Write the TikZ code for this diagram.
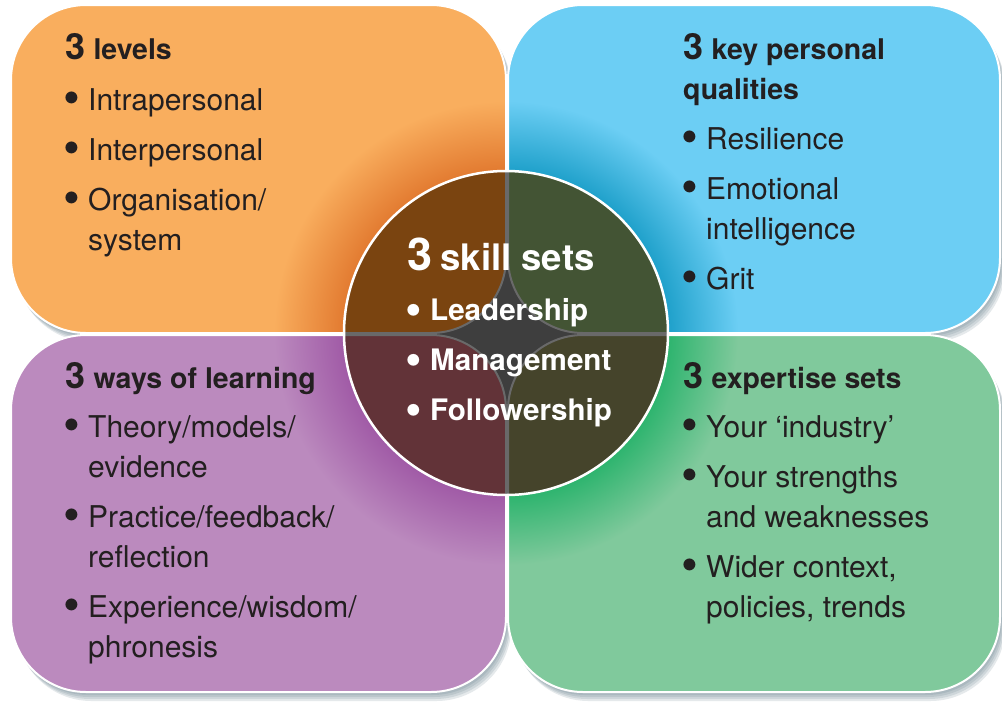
\documentclass[tikz,border=0pt]{standalone}
\usepackage{fontspec}
\setmainfont{TeX Gyre Heros}
\usetikzlibrary{positioning}

\definecolor{lvl}{RGB}{249,174,94}
\definecolor{lvlglow}{RGB}{226,122,48}
\definecolor{lvldark}{RGB}{122,68,16}
\definecolor{qual}{RGB}{108,206,244}
\definecolor{qualglow}{RGB}{30,160,202}
\definecolor{qualdark}{RGB}{67,84,52}
\definecolor{learn}{RGB}{187,138,190}
\definecolor{learnglow}{RGB}{160,90,166}
\definecolor{learndark}{RGB}{98,51,56}
\definecolor{expt}{RGB}{128,201,156}
\definecolor{exptglow}{RGB}{45,180,110}
\definecolor{exptdark}{RGB}{69,68,43}
\definecolor{hub}{RGB}{62,62,62}
\definecolor{seam}{RGB}{105,105,105}
\definecolor{ink}{RGB}{35,31,32}
\definecolor{dropc}{RGB}{70,100,115}

% glow round the centre disc, one per quarter (25bp = edge of the shaded circle)
\pgfdeclareradialshading{ringlvl}{\pgfpoint{0bp}{0bp}}{color(0bp)=(lvlglow); color(17.4bp)=(lvlglow); color(25bp)=(lvl); color(50bp)=(lvl)}
\pgfdeclareradialshading{ringqual}{\pgfpoint{0bp}{0bp}}{color(0bp)=(qualglow); color(17.4bp)=(qualglow); color(25bp)=(qual); color(50bp)=(qual)}
\pgfdeclareradialshading{ringlearn}{\pgfpoint{0bp}{0bp}}{color(0bp)=(learnglow); color(17.4bp)=(learnglow); color(25bp)=(learn); color(50bp)=(learn)}
\pgfdeclareradialshading{ringexpt}{\pgfpoint{0bp}{0bp}}{color(0bp)=(exptglow); color(17.4bp)=(exptglow); color(25bp)=(expt); color(50bp)=(expt)}

\newcommand{\bul}{\makebox[23pt][l]{\hspace{-1.5pt}\raisebox{-4.5pt}{\scalebox{1.6}{\textbullet}}}}
\newcommand{\ind}{\hspace*{23pt}}
\newcommand{\three}{{\fontsize{36}{40}\selectfont\bfseries 3}}

\begin{document}
\begin{tikzpicture}[x=1pt,y=-1pt,
txt/.style={anchor=base west,inner sep=0pt,align=left,text=ink,
    font=\fontsize{30}{40}\selectfont},
core/.style={anchor=base west,inner sep=0pt,align=left,text=white,
    font=\fontsize{29.6}{50}\selectfont\bfseries}]
\useasboundingbox (0,0) rectangle (1002,705);

% soft drop shadows
\foreach \x/\y/\X/\Y in {11/5/506/333,508/5/1000/333,11/335/506/692,508/335/1000/692}
  \foreach \s in {3,5,7,9}
    \fill[dropc,opacity=0.14,rounded corners=75pt,xshift={0.6*\s},yshift={-\s}] (\x,\y) rectangle (\X,\Y);

% the four boxes
\foreach \x/\y/\X/\Y/\c in {11/5/506/333/lvl,508/5/1000/333/qual,11/335/506/692/learn,508/335/1000/692/expt} {
  \fill[\c,rounded corners=75pt] (\x,\y) rectangle (\X,\Y);
  \begin{scope}
    \clip[rounded corners=75pt] (\x,\y) rectangle (\X,\Y);
    \shade[shading=ring\c] (506,333) circle (232pt);
  \end{scope}
  \draw[white,line width=2pt,rounded corners=75pt] (\x,\y) rectangle (\X,\Y);
}

% centre disc
\begin{scope}
  \clip (506,333) circle (162pt);
  \fill[hub] (506,333) circle (162pt);
  \foreach \x/\y/\X/\Y/\c in {11/5/506/333/lvl,508/5/1000/333/qual,11/335/506/692/learn,508/335/1000/692/expt}
    \filldraw[fill=\c dark,draw=seam,line width=2pt,rounded corners=75pt] (\x,\y) rectangle (\X,\Y);
\end{scope}
\draw[white,line width=2.5pt] (506,333) circle (162pt);

% texts, placed at the baseline of their last line
\node (levels) [txt] at (65,250) {\three\ {\bfseries\fontsize{28.5}{40}\selectfont levels}\\[11pt]
  \bul Intrapersonal\\[10pt]
  \bul Interpersonal\\[10pt]
  \bul Organisation/\\
  \ind system};
\node (qualities) [txt] at (683,289) {\three\ {\bfseries\fontsize{28.5}{40}\selectfont key personal}\\
  {\bfseries\fontsize{28.5}{40}\selectfont qualities}\\[10pt]
  \bul Resilience\\[10pt]
  \bul Emotional\\
  \ind intelligence\\[10pt]
  \bul Grit};
\node (learning) [txt] at (65,657) {\three\ {\bfseries\fontsize{28.5}{40}\selectfont ways of learning}\\[9pt]
  \bul Theory/models/\\
  \ind evidence\\[10pt]
  \bul Practice/feedback/\\
  \ind reflection\\[10pt]
  \bul Experience/wisdom/\\
  \ind phronesis};
\node (expertise) [txt] at (683,617) {\three\ {\bfseries\fontsize{28.5}{40}\selectfont expertise sets}\\[9pt]
  \bul Your `industry'\\[10pt]
  \bul Your strengths\\
  \ind and weaknesses\\[10pt]
  \bul Wider context,\\
  \ind policies, trends};
\node (skills) [core] at (407,420) {{\fontsize{45}{50}\selectfont 3} {\fontsize{36.5}{50}\selectfont skill sets}\\
  \bul Leadership\\
  \bul Management\\
  \bul Followership};
\end{tikzpicture}
\end{document}
